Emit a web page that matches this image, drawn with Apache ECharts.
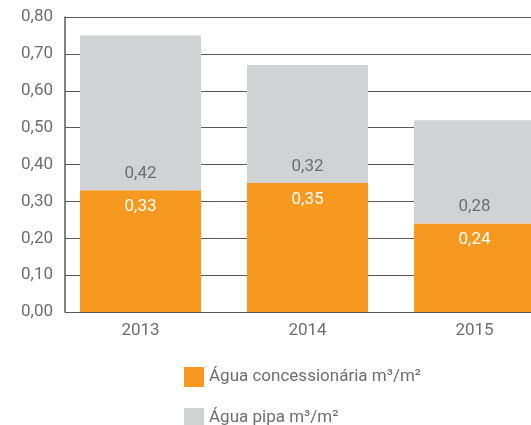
<!DOCTYPE html>
<html>
<head>
<meta charset="utf-8">
<script src="https://cdn.jsdelivr.net/npm/echarts@6/dist/echarts.min.js"></script>
<style>
  html, body { margin: 0; padding: 0; background: #fff; }
  #chart { width: 531px; height: 425px; }
</style>
</head>
<body>
<div id="chart"></div>
<script>
// dados
var years = ["2013", "2014", "2015"];
var concessionaria = [0.33, 0.35, 0.24];
var pipa = [0.42, 0.32, 0.28];
var yTicks = { min: 0, max: 0.8, step: 0.1 };
var seriesNames = ["Água concessionária m³/m²", "Água pipa m³/m²"];

var textGray = "#6d6e71";
var lineGray = "#58595b";

function fmt(v) {
  return Number(v).toFixed(2).replace(".", ",");
}

function legendAt(top, name) {
  return {
    left: 179,
    top: top,
    itemWidth: 20,
    itemHeight: 20,
    itemGap: 9,
    icon: "rect",
    textStyle: { color: textGray, fontSize: 17, fontFamily: "Roboto" },
    data: [name]
  };
}

var chart = echarts.init(document.getElementById("chart"));
chart.setOption({
  animation: false,
  textStyle: { fontFamily: "Roboto" },
  grid: { left: 57, width: 501, top: 17, bottom: 113, outerBoundsMode: "none", containLabel: false },
  legend: [legendAt(362, seriesNames[0]), legendAt(403, seriesNames[1])],
  xAxis: {
    type: "category",
    data: years,
    axisLine: { show: false },
    axisTick: {
      inside: true,
      length: 7,
      interval: function (i) { return i > 0; },
      lineStyle: { color: lineGray, width: 1.5 }
    },
    axisLabel: { color: textGray, fontSize: 17, margin: 10 }
  },
  yAxis: {
    type: "value",
    min: yTicks.min,
    max: yTicks.max,
    interval: yTicks.step,
    offset: -8,
    splitLine: { show: false },
    axisLine: { show: true, lineStyle: { color: lineGray, width: 1.5 } },
    axisTick: { show: true, inside: true, length: 480, lineStyle: { color: lineGray, width: 1 } },
    axisLabel: { color: textGray, fontSize: 17, margin: 12, formatter: fmt }
  },
  series: [
    {
      name: seriesNames[0],
      type: "bar",
      stack: "total",
      barWidth: 121,
      data: concessionaria,
      itemStyle: { color: "#f7991e" },
      label: {
        show: true,
        position: "insideTop",
        distance: 8,
        color: "#fff",
        fontSize: 17,
        formatter: function (p) { return fmt(p.value); }
      }
    },
    {
      name: seriesNames[1],
      type: "bar",
      stack: "total",
      barWidth: 121,
      data: pipa,
      itemStyle: { color: "#d1d2d4" },
      label: {
        show: true,
        position: "insideBottom",
        distance: 8,
        color: textGray,
        fontSize: 17,
        formatter: function (p) { return fmt(p.value); }
      }
    }
  ]
});
</script>
</body>
</html>
